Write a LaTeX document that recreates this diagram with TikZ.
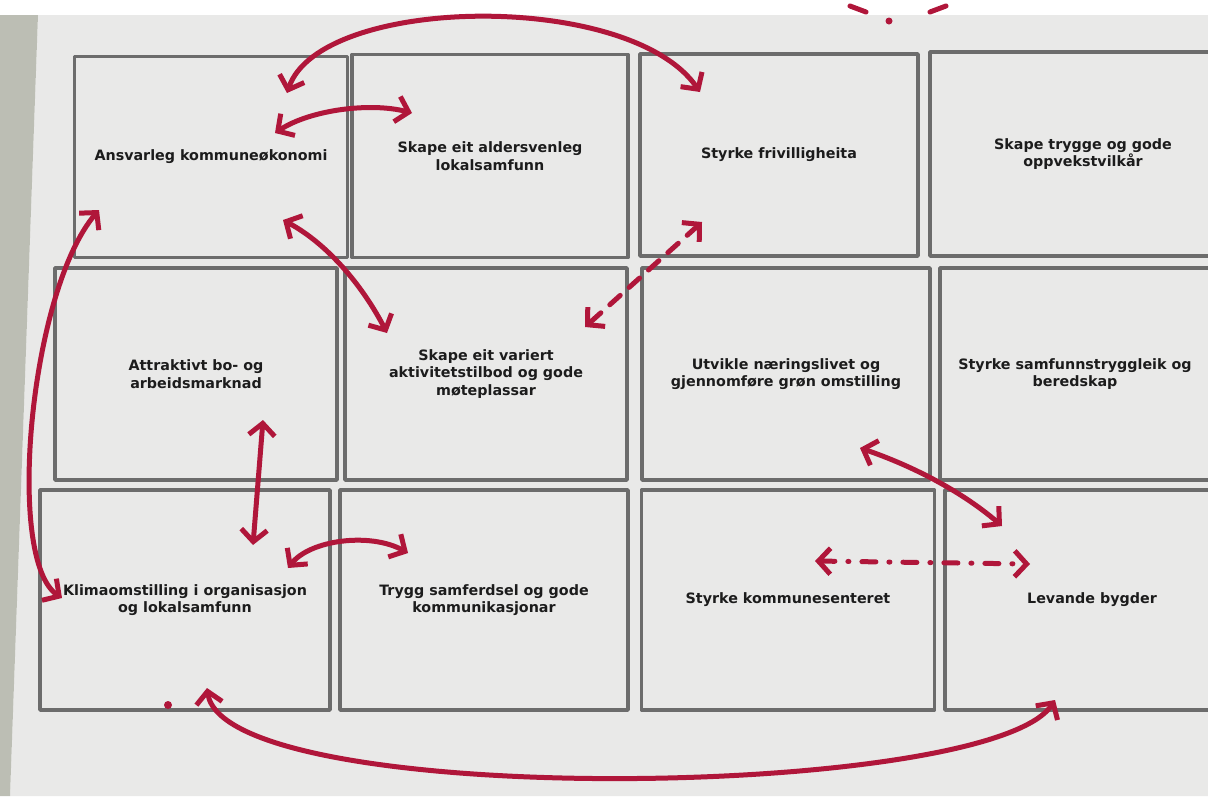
\documentclass[tikz,border=0pt]{standalone}
\usepackage{fontspec}
\setsansfont{DejaVu Sans}
\usetikzlibrary{arrows.meta}
\definecolor{marker}{RGB}{176,22,58}
\definecolor{boxgray}{RGB}{108,108,108}
\definecolor{paper}{RGB}{233,233,232}
\definecolor{desk}{RGB}{188,190,180}
\definecolor{ink}{RGB}{28,28,28}
\begin{document}
\begin{tikzpicture}[x=1pt,y=-1pt,line cap=round,line join=round,
  goal/.style={draw=boxgray,line width=3.6pt,align=center,inner sep=0pt,text=ink,
    font=\sffamily\bfseries\fontsize{14.3}{17.5}\selectfont},
  pen/.style={draw=marker,line width=5pt,
    {Straight Barb[length=12pt,width=26pt]}-{Straight Barb[length=12pt,width=26pt]}},
  dots/.style={pen,dash pattern=on 14pt off 12pt},
  dashdot/.style={pen,dash pattern=on 14pt off 13pt on 1pt off 13pt}]
  \useasboundingbox (0,0) rectangle (1208,796);
  \clip (0,0) rectangle (1208,796);
  \fill[white] (0,0) rectangle (1208,796);
  \fill[paper] (38,15) -- (1208,15) -- (1208,796) -- (10,796) -- cycle;
  \fill[desk] (0,15) -- (38,15) -- (10,796) -- (0,796) -- cycle;

  \node[goal,minimum width=273,minimum height=201] (A) at (211,157) {Ansvarleg kommuneøkonomi};
  \node[goal,minimum width=276,minimum height=203] (B) at (490,156) {Skape eit aldersvenleg\\lokalsamfunn};
  \node[goal,minimum width=278,minimum height=202] (C) at (779,155) {Styrke frivilligheita};
  \node[goal,minimum width=306,minimum height=204] (D) at (1083,154) {Skape trygge og gode\\oppvekstvilkår};

  \node[goal,minimum width=282,minimum height=212] (E) at (196,374) {Attraktivt bo- og\\arbeidsmarknad};
  \node[goal,minimum width=282,minimum height=212] (F) at (486,374) {Skape eit variert\\aktivitetstilbod og gode\\møteplassar};
  \node[goal,minimum width=288,minimum height=212] (G) at (786,374) {Utvikle næringslivet og\\gjennomføre grøn omstilling};
  \node[goal,minimum width=270,minimum height=212] (H) at (1075,374) {Styrke samfunnstryggleik og\\beredskap};

  \node[goal,minimum width=290,minimum height=220] (I) at (185,600) {Klimaomstilling i organisasjon\\og lokalsamfunn};
  \node[goal,minimum width=288,minimum height=220] (J) at (484,600) {Trygg samferdsel og gode\\kommunikasjonar};
  \node[goal,minimum width=293,minimum height=220] (K) at (788,600) {Styrke kommunesenteret};
  \node[goal,minimum width=294,minimum height=220] (L) at (1092,600) {Levande bygder};

  \coordinate (a1) at (287,93);   \coordinate (a2) at (700,92);
  \coordinate (b1) at (275,133);  \coordinate (b2) at (412,113);
  \coordinate (c1) at (283,220);  \coordinate (c2) at (387,333);
  \coordinate (d1) at (99,210);   \coordinate (d2) at (62,598);
  \coordinate (e1) at (263,420);  \coordinate (e2) at (253,545);
  \coordinate (f1) at (288,568);  \coordinate (f2) at (408,553);
  \coordinate (g1) at (702,222);  \coordinate (g2) at (585,327);
  \coordinate (h1) at (860,448);  \coordinate (h2) at (1002,526);
  \coordinate (k1) at (815,561);  \coordinate (k2) at (1030,564);
  \coordinate (l1) at (207,688);  \coordinate (l2) at (1055,700);

  \draw[pen] (a1) .. controls (320,-5) and (630,-10) .. (a2);
  \draw[pen] (b1) .. controls (310,110) and (370,102) .. (b2);
  \draw[pen] (c1) .. controls (330,245) and (365,290) .. (c2);
  \draw[pen] (d1) .. controls (30,290) and (5,560) .. (d2);
  \draw[pen] (e1) -- (e2);
  \draw[pen] (f1) .. controls (310,540) and (370,532) .. (f2);
  \draw[dots] (g1) -- (g2);
  \draw[pen] (h1) .. controls (910,465) and (960,490) .. (h2);
  \draw[dashdot] (k1) -- (k2);
  \draw[pen] (l1) .. controls (225,810) and (990,800) .. (l2);

  \fill[marker] (168,705) circle (4);
  \draw[marker,line width=5pt] (850,6) -- (866,12);
  \fill[marker] (889,21) circle (3.5);
  \draw[marker,line width=5pt] (930,12) -- (946,6);
\end{tikzpicture}
\end{document}
